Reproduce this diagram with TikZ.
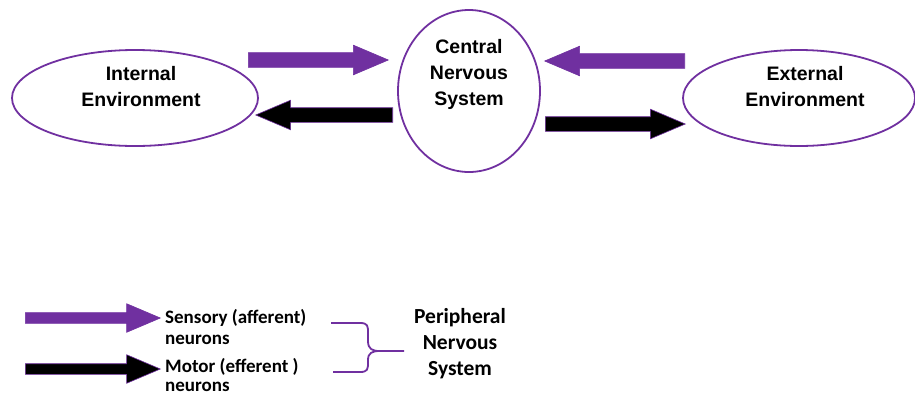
\documentclass[tikz,border=0pt]{standalone}
\usepackage{fontspec}
\setmainfont{Liberation Sans}
\newfontfamily\calib{Carlito}
\usetikzlibrary{shapes.arrows}
\definecolor{npurple}{HTML}{7030A0}
\begin{document}
\begin{tikzpicture}[x=1pt,y=-1pt,
  lbl/.style={font=\fontsize{19.5}{26}\selectfont\bfseries,align=center,text=black},
  leg/.style={font=\calib\bfseries\fontsize{19}{20.5}\selectfont,align=left,anchor=west,text=black,inner sep=0pt},
  fat/.style={single arrow,draw=npurple,line width=0.6pt,inner sep=0pt,minimum width=29pt,single arrow head extend=7.5pt,single arrow tip angle=46,anchor=tail},
  bigshaft/.style={fat,inner ysep=7pt},
  smallshaft/.style={fat,inner ysep=5pt,minimum width=28pt,single arrow head extend=9pt},
  pfill/.style={fill=npurple},
  bfill/.style={fill=black}]
\useasboundingbox (0,0) rectangle (915,397);
% ellipses
\draw[npurple,line width=1.8pt] (135,98) ellipse[x radius=123,y radius=48];
\draw[npurple,line width=1.8pt] (469,91) ellipse[x radius=71,y radius=81];
\draw[npurple,line width=1.8pt] (799,98) ellipse[x radius=116,y radius=48];
\node[lbl] (int) at (141,87) {Internal\\Environment};
\node[lbl] (cns) at (469,74) {Central\\Nervous\\System};
\node[lbl] (ext) at (805,87) {External\\Environment};
% arrows
\node[bigshaft,pfill,minimum height=140pt] (a1) at (248,60) {};
\node[bigshaft,bfill,minimum height=137pt,shape border rotate=180] (a2) at (393,115) {};
\node[bigshaft,pfill,minimum height=140pt,shape border rotate=180] (a3) at (685,61) {};
\node[bigshaft,bfill,minimum height=140pt] (a4) at (545,124) {};
% legend
\node[smallshaft,pfill,minimum height=135pt] (l1) at (25,318) {};
\node[smallshaft,bfill,minimum height=135pt] (l2) at (25,369) {};
\node[leg] (t1) at (165,327) {Sensory (afferent)\\neurons};
\node[leg,font=\calib\bfseries\fontsize{19}{19.5}\selectfont] (t2) at (165,375) {Motor (efferent )\\neurons};
\node[font=\calib\bfseries\fontsize{21.5}{26}\selectfont,align=center] (pns) at (460,344) {Peripheral\\Nervous\\System};
\draw[npurple,line width=1.8pt,line join=round]
  (331,323) -- (360,323) .. controls (368,323) and (368,326) .. (368,333)
  -- (368,341) .. controls (368,349) and (372,351) .. (380,351) -- (404,351);
\draw[npurple,line width=1.8pt,line join=round]
  (333,372) -- (360,372) .. controls (368,372) and (368,369) .. (368,362)
  -- (368,360) .. controls (368,353) and (372,351) .. (380,351);
\end{tikzpicture}
\end{document}
